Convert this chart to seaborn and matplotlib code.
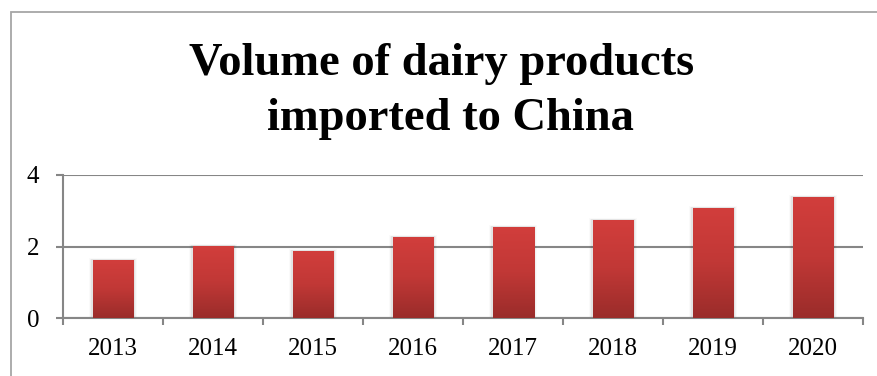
import numpy as np
import pandas as pd
import matplotlib
matplotlib.use("Agg")
import matplotlib.pyplot as plt
from matplotlib.colors import LinearSegmentedColormap
from matplotlib.patches import Rectangle
import seaborn as sns

# Import volume by year
years = ["2013", "2014", "2015", "2016", "2017", "2018", "2019", "2020"]
volumes = [1.63, 2.03, 1.88, 2.28, 2.56, 2.75, 3.08, 3.39]
y_ticks = [0, 2, 4]
title_lines = ["Volume of dairy products", "imported to China"]

df = pd.DataFrame({"year": years, "volume": volumes})

sns.set_theme(style="white")
plt.rcParams["font.family"] = ["Liberation Serif", "DejaVu Serif"]

GRID = "#868686"
W, H, DPI = 877, 376, 100
fig = plt.figure(figsize=(W / DPI, H / DPI), dpi=DPI)
fig.patch.set_facecolor("white")

# outer frame of the chart area
fig.patches.append(Rectangle((11 / W, -0.1), 1.2, (H - 12) / H + 0.1,
                             transform=fig.transFigure, fill=False,
                             edgecolor="#A6A6A6", linewidth=1.3))

ax = fig.add_axes([63 / W, (H - 318.3) / H, 800 / W, (318.3 - 175) / H])

sns.barplot(data=df, x="year", y="volume", ax=ax, width=0.41,
            color="#C03735", saturation=1, zorder=3)

# vertical red gradient inside each bar, with a faint soft shadow
cmap = LinearSegmentedColormap.from_list("bar", ["#D23E3C", "#C13836", "#9A2C2A"])
grad = np.linspace(0, 1, 256).reshape(-1, 1)
for p in ax.patches:
    x0, y0 = p.get_x(), p.get_y()
    w, h = p.get_width(), p.get_height()
    for k, a in enumerate([0.05, 0.035, 0.02]):
        d = 0.012 * (k + 1)
        ax.add_patch(Rectangle((x0 - d, y0), w + 2 * d, h + d * 1.2,
                               facecolor="black", alpha=a, edgecolor="none",
                               zorder=2))
    p.set_facecolor("none")
    p.set_edgecolor("none")
    im = ax.imshow(grad, cmap=cmap, aspect="auto",
                   extent=(x0, x0 + w, y0, y0 + h), origin="upper", zorder=3)
    clip = Rectangle((x0, y0), w, h, transform=ax.transData)
    im.set_clip_path(clip)

ax.set_xlim(-0.5, len(years) - 0.5)
ax.set_ylim(0, 4)
ax.set_yticks(y_ticks)
ax.set_yticklabels([str(t) for t in y_ticks])
ax.set_xticks(range(len(years)))
ax.set_xticklabels(years)
ax.set_xticks(np.arange(-0.5, len(years), 1.0), minor=True)
ax.set_xlabel("")
ax.set_ylabel("")

ax.yaxis.grid(True, color=GRID, linewidth=1.5, zorder=1)
ax.set_axisbelow(True)
for s in ["top", "right"]:
    ax.spines[s].set_visible(False)
for s in ["left", "bottom"]:
    ax.spines[s].set_visible(True)
    ax.spines[s].set_color(GRID)
    ax.spines[s].set_linewidth(1.5)

ax.tick_params(axis="x", which="major", length=0, pad=14, labelsize=18,
               labelcolor="black")
ax.tick_params(axis="x", which="minor", length=5, width=1.5, color=GRID,
               direction="out", bottom=True)
ax.tick_params(axis="y", length=5, width=1.5, color=GRID, direction="out",
               pad=12, labelsize=18, labelcolor="black", left=True)

# two-line bold title, each line placed on its own baseline
fig.text(442 / W, 1 - 75 / H, title_lines[0], ha="center", va="baseline",
         fontsize=33.5, fontweight="bold", color="black")
fig.text(450 / W, 1 - 130 / H, title_lines[1], ha="center", va="baseline",
         fontsize=33.5, fontweight="bold", color="black")

fig.savefig("out.png", dpi=DPI, facecolor="white")
